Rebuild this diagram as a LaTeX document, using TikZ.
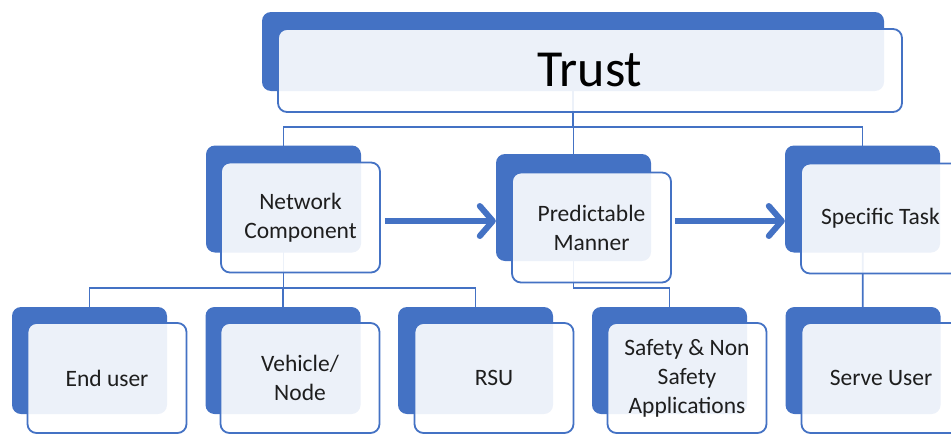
\documentclass[tikz,border=0pt]{standalone}
\usepackage{fontspec}
\setmainfont{Carlito}
\usetikzlibrary{arrows.meta}
\definecolor{accent}{HTML}{4472C4}
\definecolor{ink}{HTML}{1E1E1E}
\pgfdeclarelayer{wires}
\pgfsetlayers{wires,main}
\tikzset{
  shadebox/.style={fill=accent, rounded corners=9pt, minimum width=155pt,
    minimum height=107pt, inner sep=0pt},
  cardbox/.style={fill=white, fill opacity=0.9, text opacity=1, draw=accent,
    line width=1.8pt, rounded corners=9pt, minimum width=159pt,
    minimum height=110pt, inner sep=0pt, align=center, text=ink,
    font=\fontsize{23.5}{29}\selectfont},
  link/.style={draw=accent, line width=1.8pt},
  flow/.style={draw=accent, line width=6pt,
    -{Straight Barb[length=13pt,width=30pt,round]}},
}
\begin{document}
\begin{tikzpicture}[x=1pt,y=-1pt]
\useasboundingbox (0,0) rectangle (951,434);
\clip (0,0) rectangle (951,434);

% top card
\node[shadebox, minimum width=622pt, minimum height=79pt] (tb) at (573,51.5) {};
\node[cardbox, minimum width=624pt, minimum height=83pt, text=black,
      font=\fontsize{52}{60}\selectfont] (trust) at (590,70.5) {Trust};

% second row
\node[shadebox] (ncb) at (283.5,199) {};
\node[cardbox]  (nc)  at (300.5,217.5) {Network\\Component};
\node[shadebox] (pmb) at (573.5,207.5) {};
\node[cardbox]  (pm)  at (591.5,227.5) {Predictable\\Manner};
\node[shadebox] (stb) at (862.5,199) {};
\node[cardbox]  (st)  at (880.5,218.5) {Specific Task};

% third row
\node[shadebox] (eub) at (89.5,360.5) {};
\node[cardbox]  (eu)  at (107,378) {End user};
\node[shadebox] (vnb) at (283,360.5) {};
\node[cardbox]  (vn)  at (300,378) {Vehicle/\\Node};
\node[shadebox] (rsb) at (475.5,360.5) {};
\node[cardbox]  (rs)  at (494,378) {RSU};
\node[shadebox] (sab) at (669.5,360.5) {};
\node[cardbox]  (sa)  at (687,378) {Safety \& Non\\Safety\\Applications};
\node[shadebox] (sub) at (863,360.5) {};
\node[cardbox]  (su)  at (881,378) {Serve User};

% bus lines of the tree
\coordinate (busA) at (573,127);
\coordinate (busB) at (283,288);

\begin{pgfonlayer}{wires}
  \draw[link] (tb.center) -- (busA);
  \draw[link] (ncb.center) |- (stb.center |- busA) -- (stb.center);
  \draw[link] (pmb.center) -- (pmb.center |- busA);
  \draw[link] (ncb.center) -- (ncb.center |- busB);
  \draw[link] (eub.center) |- (rsb.center |- busB) -- (rsb.center);
  \draw[link] (vnb.center) -- (vnb.center |- busB);
  \draw[link] (pmb.center) |- (sab.center |- busB) -- (sab.center);
  \draw[link] (stb.center) -- (sub.center);
\end{pgfonlayer}

% flow arrows between the cards
\path (nc.east) ++(4pt,-3.5pt) coordinate (a1);
\path (pm.east |- a1) ++(3pt,0) coordinate (a2);
\draw[flow] (a1) -- (a1 -| pmb.west);
\draw[flow] (a2) -- (a2 -| stb.west);
\end{tikzpicture}
\end{document}
